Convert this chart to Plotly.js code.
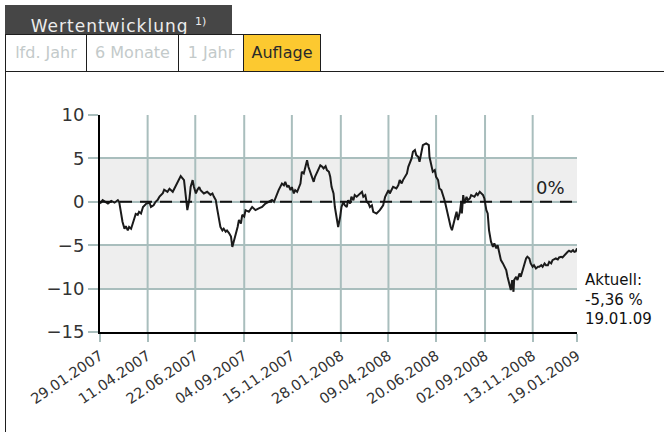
<!DOCTYPE html>
<html>
<head>
<meta charset="utf-8">
<script src="https://cdn.plot.ly/plotly-3.0.1.min.js"></script>
<style>
html,body{margin:0;padding:0;background:#fff;}
#wrap{position:relative;width:664px;height:432px;overflow:hidden;font-family:"DejaVu Sans",sans-serif;}
#chart{position:absolute;left:0;top:0;width:664px;height:432px;}
.hd{position:absolute;z-index:5;}
.tab{position:absolute;z-index:5;top:35px;height:36px;line-height:36px;text-align:center;font-size:16px;color:#c3caca;background:#fff;}
.ln{position:absolute;z-index:6;background:#1e1e1e;}
</style>
</head>
<body>
<div id="wrap">
  <div id="chart"></div>
  <div class="hd" id="title" style="left:5px;top:5px;width:227px;height:29px;background:#464646;color:#ececec;font-size:17px;letter-spacing:1px;line-height:33px;text-align:center;"></div>
  <div class="tab" id="t0" style="left:6px;width:80px;"></div>
  <div class="tab" id="t1" style="left:87px;width:91px;"></div>
  <div class="tab" id="t2" style="left:179px;width:64px;"></div>
  <div class="tab" id="t3" style="left:244px;width:76px;background:#fcc930;color:#2a2a2a;"></div>
  <div class="ln" style="left:5px;top:34px;width:316px;height:1px;"></div>
  <div class="ln" style="left:5px;top:71px;width:659px;height:1px;"></div>
  <div class="ln" style="left:5px;top:34px;width:1px;height:398px;"></div>
  <div class="ln" style="left:86px;top:34px;width:1px;height:38px;"></div>
  <div class="ln" style="left:178px;top:34px;width:1px;height:38px;"></div>
  <div class="ln" style="left:243px;top:34px;width:1px;height:38px;"></div>
  <div class="ln" style="left:320px;top:34px;width:1px;height:38px;"></div>
</div>
<script>
// ---- data ----
var headerTitle = "Wertentwicklung";
var headerNote = "1)";
var tabLabels = ["lfd. Jahr", "6 Monate", "1 Jahr", "Auflage"];

// days since launch (29.01.2007)
var tage = [
  0,4,12,17,22,27,29,32,34,37,
  39,42,44,47,49,52,54,57,59,62,
  65,70,75,77,81,84,87,90,95,97,
  102,105,110,115,117,122,127,130,132,135,
  137,140,142,145,147,150,152,157,162,167,
  170,172,175,177,180,182,185,187,190,192,
  195,198,200,203,205,208,210,213,215,218,
  220,225,230,235,240,245,250,255,260,263,
  265,268,270,275,278,280,283,285,288,290,
  293,295,298,303,305,308,310,313,315,318,
  320,323,325,328,331,333,336,338,341,343,
  346,348,350,353,355,358,360,363,365,368,
  370,373,375,378,380,383,385,388,393,396,
  398,401,403,406,408,411,413,418,423,428,
  431,433,436,438,441,443,448,451,453,456,
  458,461,464,466,471,473,476,478,481,483,
  486,488,493,497,498,501,503,506,508,511,
  513,516,518,520,522,525,527,530,532,535,
  537,539,541,544,546,547,549,551,554,556,
  559,561,566,569,571,574,576,579,581,584,
  586,588,591,594,596,599,601,604,606,609,
  611,614,616,619,621,623,625,626,629,631,
  634,636,639,641,644,646,649,651,654,656,
  659,662,664,667,669,672,674,677,679,682,
  684,689,692,694,697,699,702,704,707,709,
  712,715,717,719,721
];
// performance in %
var wert = [
  -0.2,0.2,-0.2,0.1,-0.1,0.2,0.0,-1.3,-2.3,-3.1,
  -2.8,-3.3,-2.9,-3.1,-2.5,-1.9,-1.4,-1.5,-1.15,-1.35,
  -0.6,-0.2,-0.1,-0.6,-0.4,0.0,0.2,0.6,1.0,1.4,
  1.15,1.5,1.15,1.9,2.1,2.96,2.5,0.6,-0.96,0.2,
  1.7,2.5,1.7,0.96,1.35,1.7,1.35,0.96,1.15,0.8,
  0.96,0.6,0.2,-0.76,-2.1,-2.9,-3.3,-3.1,-3.45,-3.3,
  -3.6,-4.0,-5.2,-4.4,-3.6,-2.9,-2.1,-2.5,-1.5,-1.7,
  -0.96,-1.15,-0.6,-0.96,-0.76,-0.6,-0.2,0.0,0.2,0.0,
  0.4,0.96,1.35,2.1,1.9,2.3,1.7,1.9,1.35,1.7,
  0.96,1.35,1.15,2.1,3.46,3.27,3.84,4.8,4.03,3.46,
  2.88,2.3,2.88,3.46,4.03,4.2,4.03,3.84,4.1,3.65,
  3.46,2.88,1.73,0.96,-0.6,-2.1,-2.9,-1.73,-0.6,0.0,
  -0.4,-0.6,0.19,-0.2,0.58,0.19,0.77,0.58,0.96,1.15,
  0.58,0.77,0.0,-0.2,-0.6,-0.4,-1.15,-1.35,-0.96,-0.4,
  0.58,0.96,1.35,0.96,1.54,1.73,1.54,1.92,2.5,2.11,
  2.5,2.88,3.27,4.03,4.99,5.76,5.96,5.38,5.19,4.61,
  5.57,6.53,6.72,6.53,5.19,4.03,3.46,3.65,2.88,2.5,
  1.54,1.35,0.96,0.38,-0.2,-1.35,-1.73,-2.88,-3.27,-2.5,
  -1.73,-1.15,-2.11,-1.15,0.0,-1.35,0.77,-0.2,0.58,0.19,
  0.38,0.77,0.58,0.96,0.77,1.15,0.96,0.77,0.38,-0.96,
  -1.34,-3.26,-4.6,-5.18,-4.8,-5.37,-4.99,-5.95,-6.72,-7.1,
  -7.49,-7.87,-8.64,-9.41,-10.17,-9.02,-10.37,-9.02,-8.64,-9.02,
  -8.25,-8.64,-7.87,-7.3,-6.53,-6.33,-6.53,-7.1,-7.49,-7.3,
  -7.68,-7.49,-7.49,-7.3,-7.49,-7.1,-7.3,-7.3,-6.91,-7.1,
  -6.72,-6.53,-6.64,-6.41,-6.33,-6.41,-6.14,-5.95,-5.76,-5.64,
  -5.76,-5.57,-5.76,-5.72,-5.36
];

// x tick labels (dates) and their day offsets since launch
var tickDays = [0,72,144,218,290,364,436,508,582,654,721];
var tickLabels = ["29.01.2007","11.04.2007","22.06.2007","04.09.2007","15.11.2007",
                  "28.01.2008","09.04.2008","20.06.2008","02.09.2008","13.11.2008","19.01.2009"];
var yTicks = [-15,-10,-5,0,5,10];
var bandPairs = [[0,5],[-10,-5]];
var zeroLabel = "0%";
var currentText = ["Aktuell:", "-5,36 %", "19.01.09"];

// ---- header ----
document.getElementById("title").innerHTML = headerTitle + ' <sup style="font-size:11px;letter-spacing:0;">' + headerNote + '</sup>';
tabLabels.forEach(function(t,i){ document.getElementById("t"+i).textContent = t; });

// ---- chart ----
var grid = "#a9bebd";
var shapes = bandPairs.map(function(b){
  return {type:"rect", xref:"paper", yref:"y", x0:0, x1:1, y0:b[0], y1:b[1],
          fillcolor:"#eeeeee", line:{width:0}, layer:"below"};
});
// vertical grid lines at the inner date ticks
tickDays.slice(1, -1).forEach(function(d){
  shapes.push({type:"line", xref:"x", yref:"paper", x0:d, x1:d, y0:0, y1:1,
               line:{color:grid, width:2}, layer:"below"});
});
shapes.push({type:"line", xref:"paper", yref:"y", x0:0, x1:1, y0:0, y1:0,
             line:{color:"#111", width:2, dash:"12px,8px"}, layer:"above"});

var trace = {x:tage, y:wert, type:"scatter", mode:"lines",
             line:{color:"#1b1b1b", width:2}, hoverinfo:"skip"};

var layout = {
  width:664, height:432,
  margin:{l:100, r:87, t:115, b:100, pad:0},
  paper_bgcolor:"rgba(0,0,0,0)", plot_bgcolor:"#ffffff",
  showlegend:false,
  font:{family:"DejaVu Sans, sans-serif", color:"#333"},
  xaxis:{range:[0,721], tickmode:"array", tickvals:tickDays, ticktext:tickLabels,
         tickangle:-34, tickfont:{size:14.5, color:"#333"},
         showgrid:false,
         ticks:"outside", ticklen:8, tickcolor:grid, tickwidth:2,
         showline:true, linecolor:"#000", linewidth:2, zeroline:false, fixedrange:true},
  yaxis:{range:[-15,10], tickmode:"array", tickvals:yTicks,
         tickfont:{size:18, color:"#333"},
         showgrid:true, gridcolor:grid, gridwidth:2,
         ticks:"outside", ticklen:10, tickcolor:grid, tickwidth:2,
         showline:true, linecolor:"#000", linewidth:2, zeroline:false, fixedrange:true},
  shapes:shapes,
  annotations:[
    {xref:"paper", yref:"y", x:0.98, y:0, xanchor:"right", yanchor:"bottom", yshift:2,
     text:zeroLabel, showarrow:false, font:{size:18, color:"#222"}},
    {xref:"paper", yref:"paper", x:1.012, y:0.15, xanchor:"left", yanchor:"middle",
     align:"left", text:currentText.join("<br>"), showarrow:false,
     font:{size:15, color:"#111"}}
  ]
};

Plotly.newPlot("chart", [trace], layout, {displayModeBar:false, staticPlot:true});
</script>
</body>
</html>
